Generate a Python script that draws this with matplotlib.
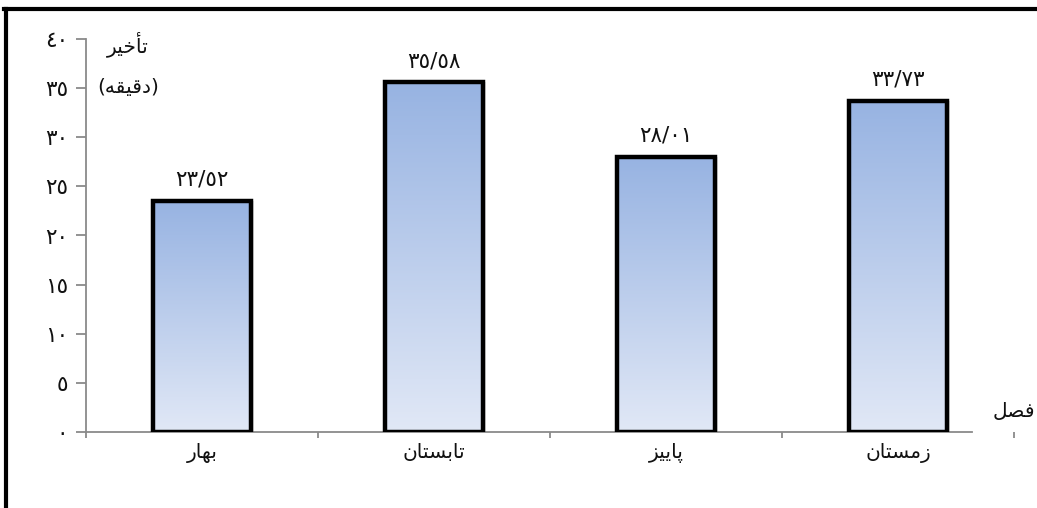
import numpy as np
import matplotlib
matplotlib.use("Agg")
import matplotlib.pyplot as plt
from matplotlib.colors import LinearSegmentedColormap
from matplotlib.lines import Line2D

plt.rcParams['font.family'] = ['DejaVu Sans']

# ---- data ----
seasons = ["بهار", "تابستان", "پاییز", "زمستان"]
delay_minutes = [23.52, 35.58, 28.01, 33.73]
y_ticks = [0, 5, 10, 15, 20, 25, 30, 35, 40]
y_label_top = "تأخیر"
y_label_unit = "(دقیقه)"
x_label = "فصل"

# ---- minimal Arabic-script shaping (matplotlib does no shaping / bidi) ----
# letter -> (isolated, final, initial, medial); right-joining letters have 2 forms
FORMS = {
    'ا': (0xFE8D, 0xFE8E), 'أ': (0xFE83, 0xFE84),
    'د': (0xFEA9, 0xFEAA), 'ر': (0xFEAD, 0xFEAE), 'ز': (0xFEAF, 0xFEB0),
    'ب': (0xFE8F, 0xFE90, 0xFE91, 0xFE92), 'پ': (0xFB56, 0xFB57, 0xFB58, 0xFB59),
    'ت': (0xFE95, 0xFE96, 0xFE97, 0xFE98), 'خ': (0xFEA5, 0xFEA6, 0xFEA7, 0xFEA8),
    'س': (0xFEB1, 0xFEB2, 0xFEB3, 0xFEB4), 'ص': (0xFEB9, 0xFEBA, 0xFEBB, 0xFEBC),
    'ف': (0xFED1, 0xFED2, 0xFED3, 0xFED4), 'ق': (0xFED5, 0xFED6, 0xFED7, 0xFED8),
    'ل': (0xFEDD, 0xFEDE, 0xFEDF, 0xFEE0), 'م': (0xFEE1, 0xFEE2, 0xFEE3, 0xFEE4),
    'ن': (0xFEE5, 0xFEE6, 0xFEE7, 0xFEE8), 'ه': (0xFEE9, 0xFEEA, 0xFEEB, 0xFEEC),
    'ی': (0xFEEF, 0xFEF0, 0xFEF3, 0xFEF4),
}
MIRROR = {'(': ')', ')': '('}


def shape(text):
    out = []
    for i, ch in enumerate(text):
        if ch not in FORMS:
            out.append(MIRROR.get(ch, ch))
            continue
        prev = text[i - 1] if i > 0 else None
        nxt = text[i + 1] if i + 1 < len(text) else None
        join_prev = prev in FORMS and len(FORMS[prev]) == 4
        join_next = len(FORMS[ch]) == 4 and nxt in FORMS
        f = FORMS[ch]
        if join_prev and join_next:
            code = f[3]
        elif join_next:
            code = f[2]
        elif join_prev:
            code = f[1]
        else:
            code = f[0]
        out.append(chr(code))
    return ''.join(reversed(out))


def fa_digits(s):
    return s.translate(str.maketrans('0123456789', '٠١٢٣٤٥٦٧٨٩'))


def fa_number(v):
    return fa_digits(f"{v:.2f}".replace('.', '/'))


# ---- figure ----
W, H = 1037, 508
fig = plt.figure(figsize=(W / 100, H / 100), dpi=100)
ax = fig.add_axes([86 / W, 1 - 432 / H, (1014 - 86) / W, (432 - 39) / H])

text_color = '#111111'
num_size = 15.5
word_size = 14.5

x = np.arange(len(seasons))
bar_w = 0.42
grad = LinearSegmentedColormap.from_list("bar", ["#e1e8f6", "#97b3e2"])
gradient = np.linspace(0, 1, 256).reshape(-1, 1)

bars = ax.bar(x, delay_minutes, width=bar_w, facecolor='none',
              edgecolor='black', linewidth=3.2, zorder=4)
for rect, v in zip(bars, delay_minutes):
    x0 = rect.get_x()
    # soft shadow on the right side
    ax.bar(x0 + bar_w / 2 + 0.012, v, width=bar_w, color='#000000', alpha=0.10,
           linewidth=0, zorder=2)
    im = ax.imshow(gradient, cmap=grad, origin='lower', aspect='auto',
                   extent=(x0, x0 + bar_w, 0, v), zorder=3, interpolation='bicubic')
    im.set_clip_path(rect)
    ax.annotate(fa_number(v), (rect.get_x() + bar_w / 2, v), xytext=(0, 8),
                textcoords='offset points', ha='center', va='bottom',
                fontsize=num_size, color=text_color)

ax.set_xlim(-0.5, len(seasons) - 0.5)
ax.set_ylim(0, 40)

axis_gray = '#8a8a8a'
for side in ('top', 'right'):
    ax.spines[side].set_visible(False)
for side in ('left', 'bottom'):
    ax.spines[side].set_color(axis_gray)
    ax.spines[side].set_linewidth(1.3)
# the x axis line stops short of the axis title on the right
ax.spines['bottom'].set_bounds(-0.5, 3.32)

ax.set_yticks(y_ticks)
ax.set_yticklabels([fa_digits(str(t)) for t in y_ticks], fontsize=num_size)
ax.tick_params(axis='y', direction='out', length=7, width=1.3, color=axis_gray,
               pad=6, labelcolor=text_color)

ax.set_xticks(x)
ax.set_xticklabels([shape(s) for s in seasons], fontsize=word_size)
ax.set_xticks(np.arange(-0.5, len(seasons)), minor=True)
ax.tick_params(axis='x', which='major', length=0, pad=8, labelcolor=text_color)
ax.tick_params(axis='x', which='minor', direction='out', length=4, width=1.3,
               color=axis_gray)

# axis titles
fig.text(128 / W, 1 - 44 / H, shape(y_label_top), ha='center', va='center',
         fontsize=word_size, color=text_color)
fig.text(128 / W, 1 - 88 / H, shape(y_label_unit), ha='center', va='center',
         fontsize=word_size, color=text_color)
ax.text(1.0, 0.053, shape(x_label), transform=ax.transAxes, ha='center',
        va='center', fontsize=word_size, color=text_color, clip_on=False)

# outer frame
fig.add_artist(Line2D([6 / W, 6 / W], [0, 1 - 9 / H], transform=fig.transFigure,
                      color='black', linewidth=3))
fig.add_artist(Line2D([4 / W, 1], [1 - 9 / H, 1 - 9 / H], transform=fig.transFigure,
                      color='black', linewidth=3))

fig.savefig("out.png", dpi=100, facecolor='white')
